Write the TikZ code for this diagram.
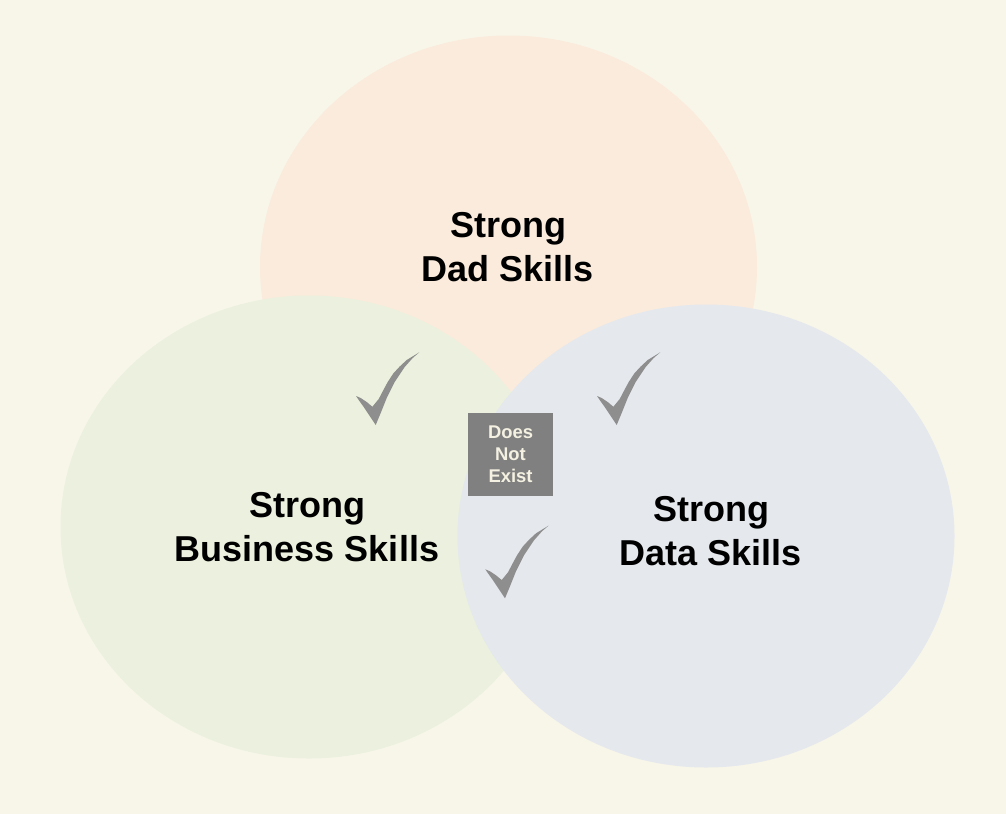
\documentclass[tikz,border=0pt]{standalone}
\usepackage{fontspec}
\setmainfont{Liberation Sans}
\usetikzlibrary{shapes.geometric}
\definecolor{bgcol}{HTML}{F8F6E9}
\definecolor{peach}{HTML}{FAEBDC}
\definecolor{greenish}{HTML}{EBF1DE}
\definecolor{bluish}{HTML}{E5E8ED}
\definecolor{boxgray}{HTML}{808080}
\definecolor{boxtext}{HTML}{F4F1E2}
\definecolor{checkgray}{HTML}{8E8E8E}
\tikzset{
  blob/.style={ellipse, inner sep=0pt, minimum width=497pt, minimum height=463pt},
  bigtext/.style={align=center, font=\fontsize{36}{44}\selectfont\bfseries, text=black, inner sep=0pt},
  nobox/.style={fill=boxgray, minimum width=85pt, minimum height=83pt, inner sep=0pt,
    align=center, text=boxtext, font=\fontsize{18.4}{22}\selectfont\bfseries},
  checkmark/.pic={
    \fill[checkgray] (0,0) -- (5,-12) -- (11,-27) -- (19,-43) -- (29,-58) -- (37,-67) -- (43.6,-72.7)
      -- (40,-70.5) -- (31,-65) -- (24,-58.5) -- (17.7,-51.7) -- (12,-43) -- (7.7,-35) -- (3,-26)
      -- (-3.3,-18.3) -- (-9,-23) -- (-15,-27) -- (-19.7,-29) -- (-17,-25) -- (-12,-18) -- (-6,-9) -- cycle;
  }
}
\begin{document}
\begin{tikzpicture}[x=1pt,y=-1pt]
\useasboundingbox (0,0) rectangle (1006,814);
\fill[bgcol] (0,0) rectangle (1006,814);
\node[blob, fill=peach] (dad) at (508.5,267) {};
\node[blob, fill=greenish] (bus) at (309,527) {};
\node[blob, fill=bluish] (data) at (706,536) {};
\node[bigtext] (dadt) at (508,247) {Strong\\Dad Skills};
\node[bigtext] (bust) at (307,527) {Strong\\Business Skills};
\node[bigtext] (datat) at (711,531) {Strong\\Data Skills};
\node[nobox] (dne) at (510.5,454) {Does\\Not\\Exist};
\pic (c1) at (375.7,425) {checkmark};
\pic (c2) at (616.7,425) {checkmark};
\pic (c3) at (505,598.3) {checkmark};
\end{tikzpicture}
\end{document}
